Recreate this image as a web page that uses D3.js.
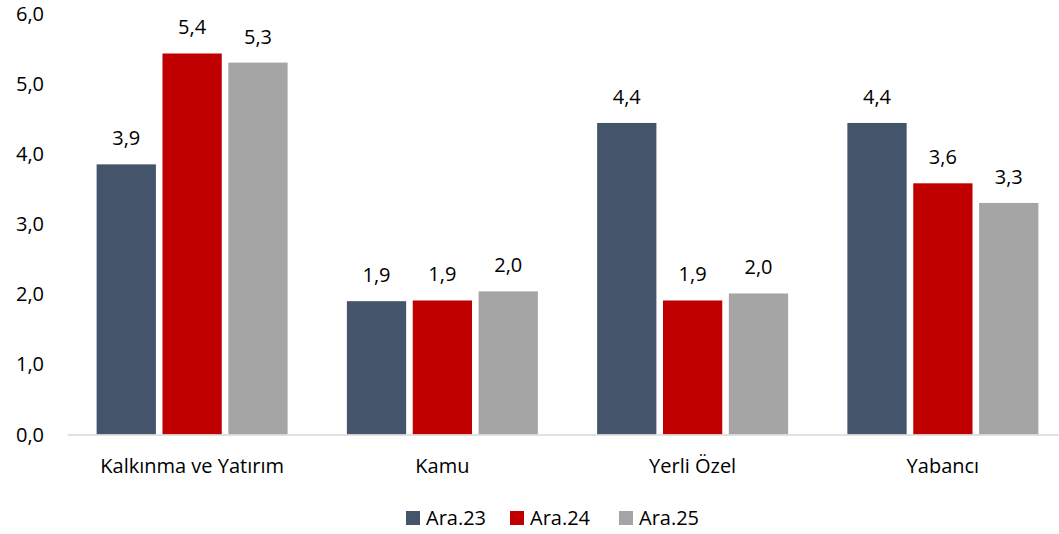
<!DOCTYPE html>
<meta charset="utf-8">
<head>
<style>
  body { margin: 0; background: #fff; }
  svg text { font-family: "Open Sans", "Noto Sans", sans-serif; fill: #000; }
</style>
</head>
<body>
<svg width="1059" height="534"></svg>

<script src="https://d3js.org/d3.v7.min.js"></script>
<script>
var categories = ["Kalkınma ve Yatırım", "Kamu", "Yerli Özel", "Yabancı"];
var seriesNames = ["Ara.23", "Ara.24", "Ara.25"];
var ara23 = [3.85, 1.90, 4.44, 4.44];
var ara24 = [5.43, 1.91, 1.91, 3.58];
var ara25 = [5.30, 2.04, 2.01, 3.30];
var yTicks = [0, 1, 2, 3, 4, 5, 6];
var colors = ["#44546A", "#C00000", "#A5A5A5"];

var series = [ara23, ara24, ara25];
var fmt = function(v) { return d3.format(".1f")(v).replace(".", ","); };
var fs = "20px";

var svg = d3.select("svg");

var x = d3.scaleBand().domain(categories).range([67, 1068]);
var x1 = d3.scaleBand().domain(d3.range(3)).range([0, 191]).paddingInner(0.1);
var y = d3.scaleLinear().domain([0, 6]).range([434.5, 13.5]);

// y tick labels
svg.append("g").selectAll("text")
    .data(yTicks)
  .enter().append("text")
    .attr("x", 44)
    .attr("y", function(d) { return y(d); })
    .attr("dy", "0.35em")
    .attr("text-anchor", "end")
    .style("font-size", fs)
    .text(function(d) { return fmt(d); });

// bars
var groups = svg.append("g").selectAll("g")
    .data(categories)
  .enter().append("g")
    .attr("transform", function(d) { return "translate(" + (x(d) + (x.bandwidth() - 191) / 2) + ",0)"; });

groups.selectAll("rect")
    .data(function(d, i) { return series.map(function(s, j) { return {j: j, v: s[i]}; }); })
  .enter().append("rect")
    .attr("x", function(d) { return x1(d.j); })
    .attr("width", x1.bandwidth())
    .attr("y", function(d) { return y(d.v); })
    .attr("height", function(d) { return y(0) - y(d.v); })
    .attr("fill", function(d) { return colors[d.j]; });

groups.selectAll("text.val")
    .data(function(d, i) { return series.map(function(s, j) { return {j: j, v: s[i]}; }); })
  .enter().append("text")
    .attr("class", "val")
    .attr("x", function(d) { return x1(d.j) + x1.bandwidth() / 2; })
    .attr("y", function(d) { return y(d.v) - 26; })
    .attr("dy", "0.35em")
    .attr("text-anchor", "middle")
    .style("font-size", fs)
    .text(function(d) { return fmt(d.v); });

// x axis
var xAxis = svg.append("g")
    .attr("transform", "translate(0," + y(0) + ")")
    .call(d3.axisBottom(x).tickSize(0).tickPadding(24));
xAxis.select(".domain").attr("stroke", "#D9D9D9").attr("stroke-width", 1.5);
xAxis.selectAll("text")
    .style("font-size", fs)
    .style("font-family", "\"Open Sans\", \"Noto Sans\", sans-serif")
    .attr("fill", "#000");

// legend
var legendX = [406, 510, 619];
var legend = svg.append("g").selectAll("g")
    .data(seriesNames)
  .enter().append("g")
    .attr("transform", function(d, i) { return "translate(" + legendX[i] + ",511)"; });
legend.append("rect")
    .attr("width", 14).attr("height", 14)
    .attr("fill", function(d, i) { return colors[i]; });
legend.append("text")
    .attr("x", 20).attr("y", 7)
    .attr("dy", "0.35em")
    .style("font-size", fs)
    .text(function(d) { return d; });
</script>
</body>
